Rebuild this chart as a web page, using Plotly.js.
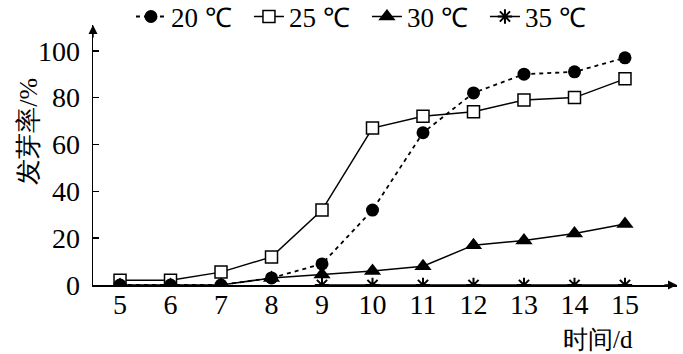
<!DOCTYPE html>
<html>
<head>
<meta charset="utf-8">
<script src="https://cdn.plot.ly/plotly-3.0.1.min.js"></script>
<style>html,body{margin:0;padding:0;background:#fff;}</style>
</head>
<body>
<div id="chart" style="width:683px;height:354px;"></div>
<script>
const days = [5, 6, 7, 8, 9, 10, 11, 12, 13, 14, 15];
const rate20 = [0, 0, 0, 3, 9, 32, 65, 82, 90, 91, 97];
const rate25 = [2, 2, 5.5, 12, 32, 67, 72, 74, 79, 80, 88];
const rate30 = [0, 0, 0, 3, 4.5, 6, 8, 17, 19, 22, 26];
const days35 = [9, 10, 11, 12, 13, 14, 15];
const rate35 = [0, 0, 0, 0, 0, 0, 0];
const seriesNames = ['20 ℃', '25 ℃', '30 ℃', '35 ℃'];
const yTicks = [0, 20, 40, 60, 80, 100];

const FONT = 'Liberation Serif';

const traces = [
  {x: days, y: rate25, name: seriesNames[1], legendrank: 2, mode: 'lines+markers',
   line: {color: '#000', width: 1.5},
   marker: {symbol: 'square', size: 12, color: '#fff', line: {color: '#000', width: 1.5}}},
  {x: days35, y: rate35, name: seriesNames[3], legendrank: 4, mode: 'lines+markers',
   line: {color: '#000', width: 1.5},
   marker: {symbol: 'asterisk-open', size: 12, color: '#000', line: {color: '#000', width: 2}}},
  {x: days, y: rate30, name: seriesNames[2], legendrank: 3, mode: 'lines+markers',
   line: {color: '#000', width: 1.5},
   marker: {symbol: 'triangle-up', size: 15, color: '#000'}},
  {x: days, y: rate20, name: seriesNames[0], legendrank: 1, mode: 'lines+markers',
   line: {color: '#000', width: 1.8, dash: '4px,4px'},
   marker: {symbol: 'circle', size: 13, color: '#000'}}
];

const layout = {
  width: 683, height: 354,
  margin: {l: 93, r: 6, t: 25, b: 69, autoexpand: false},
  paper_bgcolor: '#fff', plot_bgcolor: '#fff',
  showlegend: true,
  legend: {orientation: 'h', x: 0.065, xanchor: 'left', y: 1.031, yanchor: 'middle',
           font: {family: FONT, size: 27, color: '#000'},
           entrywidth: 73, entrywidthmode: 'pixels', itemwidth: 30, bgcolor: 'rgba(0,0,0,0)'},
  xaxis: {range: [4.465, 16.03], tickvals: days, ticktext: days.map(String),
          showline: true, linecolor: '#000', linewidth: 1.5, showgrid: false, zeroline: false,
          ticks: '', tickfont: {family: FONT, size: 28, color: '#000'}, ticklabelstandoff: -6},
  yaxis: {range: [0, 111], tickvals: yTicks, ticktext: yTicks.map(String),
          showline: true, linecolor: '#000', linewidth: 1.5, showgrid: false, zeroline: false,
          ticks: 'inside', ticklen: 6, tickwidth: 1.5, tickcolor: '#000',
          tickfont: {family: FONT, size: 28, color: '#000'}, ticklabelstandoff: 6},
  annotations: [
    {xref: 'paper', yref: 'paper', x: 1, y: 0, ax: -14, ay: 0, axref: 'pixel', ayref: 'pixel',
     showarrow: true, arrowhead: 2, arrowsize: 1.2, arrowwidth: 1.5, arrowcolor: '#000', text: ''},
    {xref: 'paper', yref: 'paper', x: 0, y: 1, ax: 0, ay: 14,
     showarrow: true, arrowhead: 2, arrowsize: 1.2, arrowwidth: 1.5, arrowcolor: '#000', text: ''},
    {xref: 'paper', yref: 'paper', x: 0.865, y: -0.21, xanchor: 'center', yanchor: 'middle',
     showarrow: false, text: '时间/d', font: {family: FONT, size: 25, color: '#000'}},
    {xref: 'paper', yref: 'paper', x: -0.111, y: 0.59, xanchor: 'center', yanchor: 'middle',
     showarrow: false, text: '发芽率/%', textangle: -90, font: {family: FONT, size: 26, color: '#000'}}
  ]
};

Plotly.newPlot('chart', traces, layout, {displayModeBar: false, staticPlot: true});
</script>
</body>
</html>
